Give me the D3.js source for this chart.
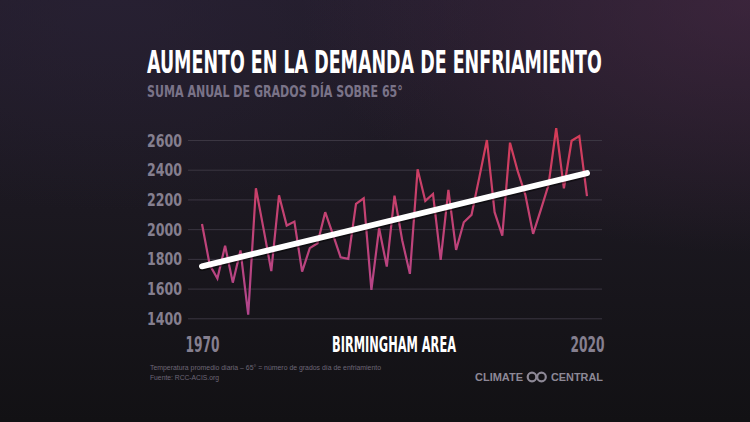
<!DOCTYPE html>
<html>
<head>
<meta charset="utf-8">
<script src="https://cdn.jsdelivr.net/npm/d3@7"></script>
<style>
  html, body { margin: 0; padding: 0; background: #161419; }
  svg { display: block; }
</style>
</head>
<body>
<svg id="chart" width="750" height="422"></svg>
<script>
// ---- data ----
const years = d3.range(1970, 2021);
const coolingDegreeDays = [
  2035, 1760, 1668, 1888, 1640, 1857, 1425, 2275, 2000, 1718,
  2228, 2024, 2051, 1714, 1872, 1905, 2114, 1965, 1811, 1800,
  2170, 2208, 1591, 2006, 1748, 2226, 1925, 1699, 2403, 2190,
  2237, 1793, 2264, 1860, 2046, 2096, 2345, 2600, 2114, 1957,
  2582, 2390, 2230, 1968, 2130, 2297, 2679, 2275, 2595, 2627,
  2223
];
const trendYears = [1970, 2020];
const trendValues = [1750, 2377];
const yTicks = [1400, 1600, 1800, 2000, 2200, 2400, 2600];
const xTickLabels = ["1970", "2020"];
const titleText = "AUMENTO EN LA DEMANDA DE ENFRIAMIENTO";
const subtitleText = "SUMA ANUAL DE GRADOS DÍA SOBRE 65°";
const locationText = "BIRMINGHAM AREA";
const noteLines = ["Temperatura promedio diaria – 65° = número de grados día de enfriamiento", "Fuente: RCC-ACIS.org"];

// ---- setup ----
const svg = d3.select("#chart");
const W = 750, H = 422;
const condensed = "'Liberation Sans Narrow', 'DejaVu Sans Condensed', 'Roboto', sans-serif";

const defs = svg.append("defs");
const bg = defs.append("linearGradient").attr("id", "bg").attr("x1", 0).attr("y1", 0).attr("x2", 0).attr("y2", 1);
bg.append("stop").attr("offset", "0%").attr("stop-color", "#231d2c");
bg.append("stop").attr("offset", "50%").attr("stop-color", "#1b1820");
bg.append("stop").attr("offset", "100%").attr("stop-color", "#121114");
const glow = defs.append("radialGradient").attr("id", "glow").attr("cx", 1).attr("cy", 0).attr("r", 0.6);
glow.append("stop").attr("offset", "0%").attr("stop-color", "#4e2b48").attr("stop-opacity", 0.55);
glow.append("stop").attr("offset", "100%").attr("stop-color", "#4e2b48").attr("stop-opacity", 0);
const glow2 = defs.append("radialGradient").attr("id", "glow2").attr("cx", 0.15).attr("cy", 0).attr("r", 0.5);
glow2.append("stop").attr("offset", "0%").attr("stop-color", "#2a2236").attr("stop-opacity", 0.6);
glow2.append("stop").attr("offset", "100%").attr("stop-color", "#2a2236").attr("stop-opacity", 0);

svg.append("rect").attr("width", W).attr("height", H).attr("fill", "url(#bg)");
svg.append("rect").attr("width", W).attr("height", H).attr("fill", "url(#glow2)");
svg.append("rect").attr("width", W).attr("height", H).attr("fill", "url(#glow)");

const x = d3.scaleLinear().domain([1970, 2020]).range([202, 587]);
const y = d3.scaleLinear().domain([1400, 2600]).range([318.3, 140]);

// line gradient
const lg = defs.append("linearGradient").attr("id", "lineGrad")
  .attr("gradientUnits", "userSpaceOnUse")
  .attr("x1", 0).attr("y1", y(1400)).attr("x2", 0).attr("y2", y(2700));
lg.append("stop").attr("offset", "0%").attr("stop-color", "#b0468f");
lg.append("stop").attr("offset", "50%").attr("stop-color", "#c24274");
lg.append("stop").attr("offset", "100%").attr("stop-color", "#d63b55");

// helper: place text at (x0, baseline) and horizontally scale it to a target width
function fitText(str, x0, base, size, fill, targetW) {
  const g = svg.append("g");
  const t = g.append("text").attr("x", 0).attr("y", 0)
    .attr("font-family", condensed).attr("font-weight", "bold").attr("font-size", size)
    .attr("fill", fill).text(str);
  const natural = t.node().getComputedTextLength() || targetW;
  g.attr("transform", `translate(${x0},${base}) scale(${targetW / natural},1)`);
  return t;
}

// title + subtitle
fitText(titleText, 147, 73, 32, "#ffffff", 455);
fitText(subtitleText, 147, 97, 16.5, "#7a7388", 256);

// y axis with gridlines
const yAxis = d3.axisLeft(y).tickValues(yTicks).tickSize(-(602 - 188)).tickPadding(6).tickFormat(d3.format("d"));
const gy = svg.append("g").attr("transform", "translate(188,0)").call(yAxis);
gy.select(".domain").remove();
gy.selectAll(".tick line").attr("stroke", "#3b3642").attr("stroke-width", 1);
gy.selectAll(".tick text")
  .attr("x", -6).attr("dy", "0.36em")
  .attr("font-family", condensed).attr("font-weight", "bold").attr("font-size", 17)
  .attr("fill", "#857f8f").attr("textLength", 35).attr("lengthAdjust", "spacingAndGlyphs");

// x axis labels
const xAxis = d3.axisBottom(x).tickValues(xTickLabels.map(Number)).tickSize(0).tickFormat(d3.format("d"));
const gx = svg.append("g").attr("transform", "translate(0,330)").call(xAxis);
gx.select(".domain").remove();
gx.selectAll(".tick text")
  .attr("y", 22).attr("dy", 0)
  .attr("font-family", condensed).attr("font-weight", "bold").attr("font-size", 22)
  .attr("fill", "#857f8f").attr("textLength", 34).attr("lengthAdjust", "spacingAndGlyphs");

svg.append("text").attr("x", 394).attr("y", 352).attr("text-anchor", "middle")
  .attr("font-family", condensed).attr("font-weight", "bold").attr("font-size", 22)
  .attr("fill", "#ffffff").attr("textLength", 124).attr("lengthAdjust", "spacingAndGlyphs")
  .text(locationText);

// data line
const line = d3.line().x((d, i) => x(years[i])).y(d => y(d)).curve(d3.curveLinear);
svg.append("path").datum(coolingDegreeDays)
  .attr("d", line).attr("fill", "none")
  .attr("stroke", "url(#lineGrad)").attr("stroke-width", 2.2)
  .attr("stroke-linejoin", "miter").attr("stroke-miterlimit", 3);

// trend line
const trend = trendYears.map((yr, i) => [x(yr), y(trendValues[i])]);
svg.append("path").attr("d", d3.line()(trend.map(p => [p[0], p[1] + 1.5])))
  .attr("stroke", "#000").attr("stroke-opacity", 0.45).attr("stroke-width", 6.5)
  .attr("stroke-linecap", "round").attr("fill", "none");
svg.append("path").attr("d", d3.line()(trend))
  .attr("stroke", "#ffffff").attr("stroke-width", 6)
  .attr("stroke-linecap", "round").attr("fill", "none");

// footnotes
noteLines.forEach((t, i) => {
  svg.append("text").attr("x", 150).attr("y", 370 + i * 9.5)
    .attr("font-family", "'Liberation Sans', 'DejaVu Sans', sans-serif").attr("font-size", 7.5)
    .attr("fill", "#6c6676")
    .attr("textLength", i === 0 ? 231 : 69).attr("lengthAdjust", "spacingAndGlyphs")
    .text(t);
});

// logo
const logo = svg.append("g").attr("fill", "#8d8896");
logo.append("text").attr("x", 475).attr("y", 381)
  .attr("font-family", "'Liberation Sans', 'DejaVu Sans', sans-serif").attr("font-weight", "bold")
  .attr("font-size", 10.5).attr("textLength", 48).attr("lengthAdjust", "spacingAndGlyphs").text("CLIMATE");
logo.append("text").attr("x", 551).attr("y", 381)
  .attr("font-family", "'Liberation Sans', 'DejaVu Sans', sans-serif").attr("font-weight", "bold")
  .attr("font-size", 10.5).attr("textLength", 52).attr("lengthAdjust", "spacingAndGlyphs").text("CENTRAL");
[532, 541.5].forEach(cx => {
  svg.append("circle").attr("cx", cx).attr("cy", 377).attr("r", 4.3)
    .attr("fill", "none").attr("stroke", "#8d8896").attr("stroke-width", 2.2);
});
</script>
</body>
</html>
